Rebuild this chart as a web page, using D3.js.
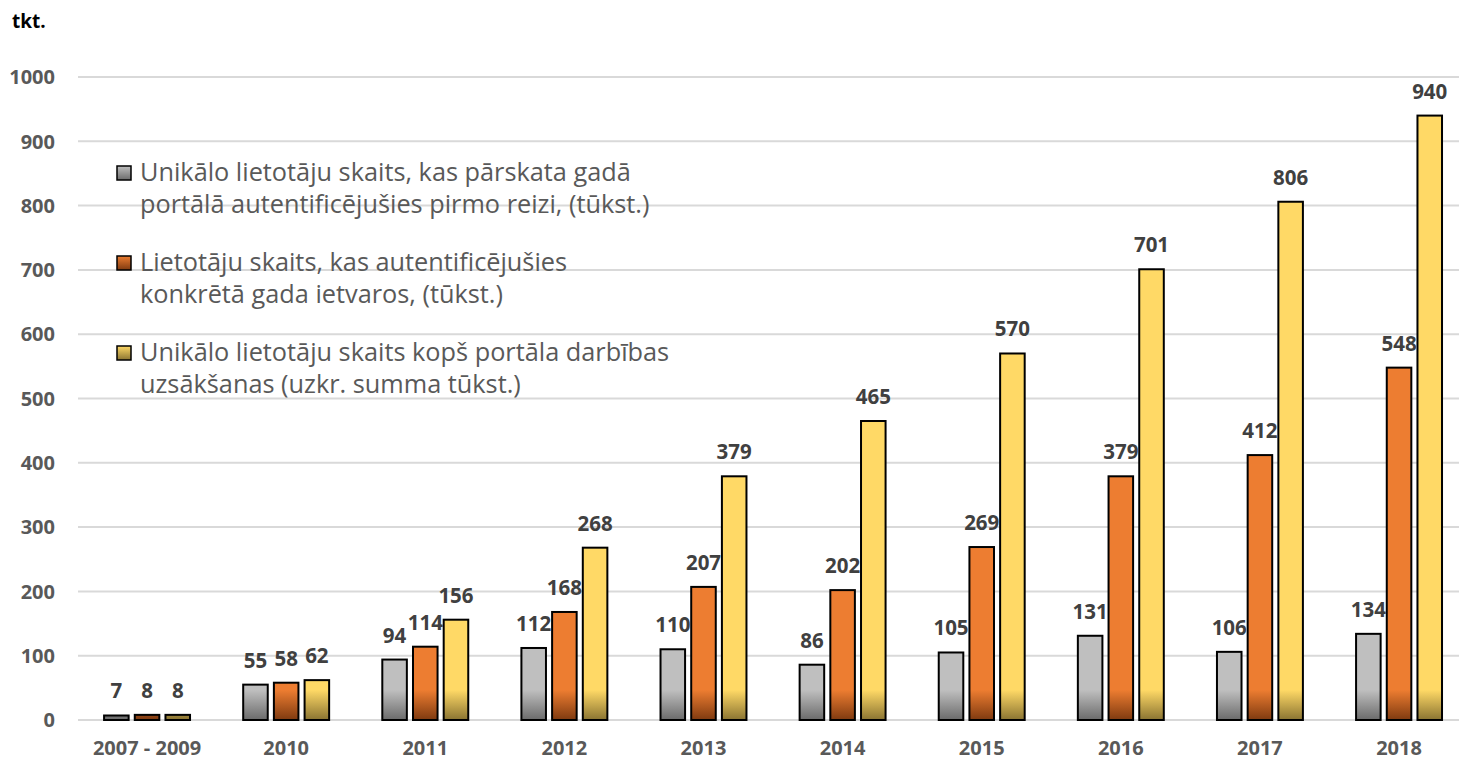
<!DOCTYPE html>
<html>
<head>
<meta charset="utf-8">
<script src="https://cdn.jsdelivr.net/npm/d3@7"></script>
<style>
  body { margin: 0; background: #fff; }
  svg { display: block; font-family: "Open Sans", sans-serif; }
</style>
</head>
<body>
<svg id="chart" width="1459" height="760"></svg>
<script>
const categories = ["2007 - 2009", "2010", "2011", "2012", "2013", "2014", "2015", "2016", "2017", "2018"];
const seriesKeys = ["first", "yearly", "total"];
const firstTime = [7, 55, 94, 112, 110, 86, 105, 131, 106, 134];
const yearly = [8, 58, 114, 168, 207, 202, 269, 379, 412, 548];
const cumulative = [8, 62, 156, 268, 379, 465, 570, 701, 806, 940];
const legendLines = [
  ["Unikālo lietotāju skaits, kas pārskata gadā", "portālā autentificējušies pirmo reizi, (tūkst.)"],
  ["Lietotāju skaits, kas autentificējušies", "konkrētā gada ietvaros, (tūkst.)"],
  ["Unikālo lietotāju skaits kopš portāla darbības", "uzsākšanas (uzkr. summa tūkst.)"]
];
const yTicks = d3.range(0, 1001, 100);

const colors = {
  first: { main: "#bfbfbf", dark: "#6b6b6b" },
  yearly: { main: "#ed7d31", dark: "#7f3a10" },
  total: { main: "#ffd966", dark: "#8a7432" }
};

const data = categories.map((c, i) => ({
  cat: c,
  first: firstTime[i],
  yearly: yearly[i],
  total: cumulative[i]
}));

const svg = d3.select("#chart");
const plot = { left: 77.5, right: 1468.6, top: 77, bottom: 720 };

const x0 = d3.scaleBand().domain(categories).range([plot.left, plot.right]);
const x1 = d3.scaleBand().domain(seriesKeys)
  .range([0, x0.bandwidth()])
  .paddingInner(0.2)
  .paddingOuter(0.866);
const y = d3.scaleLinear().domain([0, 1000]).range([plot.bottom, plot.top]);

// gradients: dark near the axis, fading to the main colour
const defs = svg.append("defs");
seriesKeys.forEach(k => {
  const g = defs.append("linearGradient")
    .attr("id", "bar-" + k)
    .attr("gradientUnits", "userSpaceOnUse")
    .attr("x1", 0).attr("x2", 0)
    .attr("y1", y(0)).attr("y2", y(0) - 30);
  g.append("stop").attr("offset", 0).attr("stop-color", colors[k].dark);
  g.append("stop").attr("offset", 1).attr("stop-color", colors[k].main);

  const m = defs.append("linearGradient")
    .attr("id", "leg-" + k)
    .attr("x1", 0).attr("x2", 0).attr("y1", 0).attr("y2", 1);
  m.append("stop").attr("offset", 0).attr("stop-color", colors[k].main);
  m.append("stop").attr("offset", 1).attr("stop-color", colors[k].dark);
});

// gridlines
svg.append("g")
  .selectAll("line")
  .data(yTicks)
  .join("line")
  .attr("x1", 78)
  .attr("x2", 1459)
  .attr("y1", d => y(d))
  .attr("y2", d => y(d))
  .attr("stroke", "#d9d9d9")
  .attr("stroke-width", 2);

// y axis labels
svg.append("g")
  .selectAll("text")
  .data(yTicks)
  .join("text")
  .attr("x", 55)
  .attr("y", d => y(d))
  .attr("dy", "0.36em")
  .attr("text-anchor", "end")
  .attr("font-size", 20)
  .attr("font-weight", "bold")
  .attr("fill", "#595959")
  .text(d => d);

svg.append("text")
  .attr("x", 12)
  .attr("y", 28)
  .attr("font-size", 19)
  .attr("font-weight", "bold")
  .attr("fill", "#000")
  .text("tkt.");

// bars
const groups = svg.append("g")
  .selectAll("g")
  .data(data)
  .join("g")
  .attr("transform", d => `translate(${x0(d.cat)},0)`);

groups.selectAll("rect")
  .data(d => seriesKeys.map(k => ({ key: k, value: d[k] })))
  .join("rect")
  .attr("x", d => x1(d.key))
  .attr("width", x1.bandwidth())
  .attr("y", d => y(d.value))
  .attr("height", d => y(0) - y(d.value))
  .attr("fill", d => `url(#bar-${d.key})`)
  .attr("stroke", "#000")
  .attr("stroke-width", 2);

groups.selectAll("text")
  .data(d => seriesKeys.map(k => ({ key: k, value: d[k] })))
  .join("text")
  .attr("x", d => x1(d.key) + x1.bandwidth() / 2)
  .attr("y", d => y(d.value) - 17)
  .attr("text-anchor", "middle")
  .attr("font-size", 20.5)
  .attr("font-weight", "bold")
  .attr("fill", "#404040")
  .text(d => d.value);

// x axis labels
svg.append("g")
  .selectAll("text")
  .data(categories)
  .join("text")
  .attr("x", d => x0(d) + x0.bandwidth() / 2)
  .attr("y", 755)
  .attr("text-anchor", "middle")
  .attr("font-size", 20)
  .attr("font-weight", "bold")
  .attr("fill", "#595959")
  .text(d => d);

// legend
const legend = svg.append("g")
  .selectAll("g")
  .data(seriesKeys)
  .join("g")
  .attr("transform", (d, i) => `translate(116,${173 + i * 90})`);

legend.append("rect")
  .attr("x", 1)
  .attr("y", -7)
  .attr("width", 14)
  .attr("height", 14)
  .attr("fill", d => `url(#leg-${d})`)
  .attr("stroke", "#000")
  .attr("stroke-width", 1.5);

legend.each(function(d, i) {
  const t = d3.select(this).append("text")
    .attr("font-size", 25.3)
    .attr("fill", "#595959");
  legendLines[i].forEach((line, j) => {
    t.append("tspan")
      .attr("x", 24)
      .attr("y", 8 + j * 32)
      .text(line);
  });
});
</script>
</body>
</html>
